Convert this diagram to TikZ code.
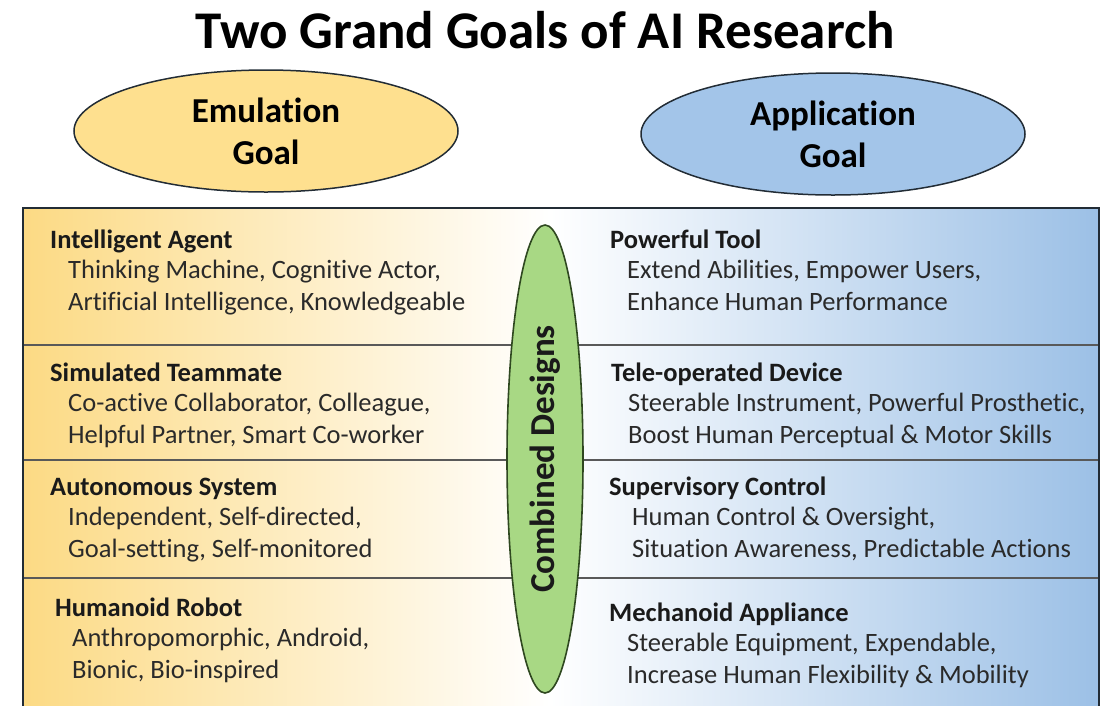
\documentclass[tikz,border=0pt]{standalone}
\usepackage{fontspec}
\setmainfont[Ligatures=NoCommon]{Carlito}
\usepackage{xcolor}
\usepackage{tikz}
\usetikzlibrary{shapes.geometric}
\definecolor{boxyellow}{HTML}{FCDA84}
\definecolor{boxblue}{HTML}{9CC0E6}
\definecolor{goalyellow}{HTML}{FEE08F}
\definecolor{goalblue}{HTML}{A3C5E9}
\definecolor{combgreen}{HTML}{A8D884}
\definecolor{greenline}{HTML}{2F4820}
\definecolor{figink}{HTML}{1A1A1A}
\definecolor{figbody}{HTML}{2A2A2A}
\definecolor{frameink}{HTML}{222C35}
\tikzset{
  headtext/.style={anchor=base west,inner sep=0pt,text=figink,
    font=\fontsize{26.5}{31}\selectfont\bfseries},
  bodytext/.style={anchor=base west,inner sep=0pt,text=figbody,
    font=\fontsize{26.5}{31}\selectfont},
  goalnode/.style={ellipse,draw=frameink,line width=1.5pt,
    minimum width=384pt,minimum height=122pt,inner sep=0pt,align=center,
    font=\fontsize{35}{42}\selectfont\bfseries},
  rowline/.style={draw=black!65,line width=1.6pt},
  frameline/.style={draw=frameink,line width=2.6pt}
}
% #1 name, #2 x, #3 baseline, #4 indent, #5 heading, #6/#7 lines
\newcommand{\goalitem}[7]{%
  \node[headtext] (#1) at (#2,#3) {#5};
  \node[bodytext] (#1a) at ({#2+#4},{#3+30}) {#6};
  \node[bodytext] (#1b) at ({#2+#4},{#3+62}) {#7};
}

\begin{document}
\begin{tikzpicture}[x=1pt,y=-1pt]
    \useasboundingbox (0,0) rectangle (1107,705);
    \clip (0,0) rectangle (1107,705);
    \node[anchor=base,inner sep=0pt,text=black,
      font=\fontsize{53}{62}\selectfont\bfseries] (title) at (545,48)
      {Two Grand Goals of AI Research};
    \node[goalnode,fill=goalyellow] (emu) at (266,131) {Emulation\\Goal};
    \node[goalnode,fill=goalblue] (app) at (833,134) {Application\\Goal};
    % table body
    \shade[left color=boxyellow,right color=white] (23,208) rectangle (550,720);
    \shade[left color=white,right color=boxblue] (550,208) rectangle (1099,720);
    \foreach \y in {345,460,578} \draw[rowline] (23,\y) -- (1099,\y);
    \draw[frameline] (23,720) -- (23,208) -- (1099,208) -- (1099,720);
    \node[ellipse,rotate=90,draw=greenline,fill=combgreen,line width=1.6pt,
      minimum width=468pt,minimum height=76pt,inner sep=0pt,text=figink,
      font=\fontsize{35}{42}\selectfont\bfseries] (comb) at (545,459)
      {Combined Designs};
    % emulation side
    \goalitem{agent}{50}{248}{18}{Intelligent Agent}
      {Thinking Machine, Cognitive Actor,}{Artificial Intelligence, Knowledgeable}
    \goalitem{mate}{50}{381}{18}{Simulated Teammate}
      {Co-active Collaborator, Colleague,}{Helpful Partner, Smart Co-worker}
    \goalitem{auto}{50}{495}{18}{Autonomous System}
      {Independent, Self-directed,}{Goal-setting, Self-monitored}
    \goalitem{robot}{55}{616}{17}{Humanoid Robot}
      {Anthropomorphic, Android,}{Bionic, Bio-inspired}
    % application side
    \goalitem{tool}{610}{248}{17}{Powerful Tool}
      {Extend Abilities, Empower Users,}{Enhance Human Performance}
    \goalitem{tele}{611}{381}{17}{Tele-operated Device}
      {Steerable Instrument, Powerful Prosthetic,}{Boost Human Perceptual \& Motor Skills}
    \goalitem{super}{609}{495}{23}{Supervisory Control}
      {Human Control \& Oversight,}{Situation Awareness, Predictable Actions}
    \goalitem{mech}{609}{621}{18}{Mechanoid Appliance}
      {Steerable Equipment, Expendable,}{Increase Human Flexibility \& Mobility}
  \end{tikzpicture}
\end{document}
